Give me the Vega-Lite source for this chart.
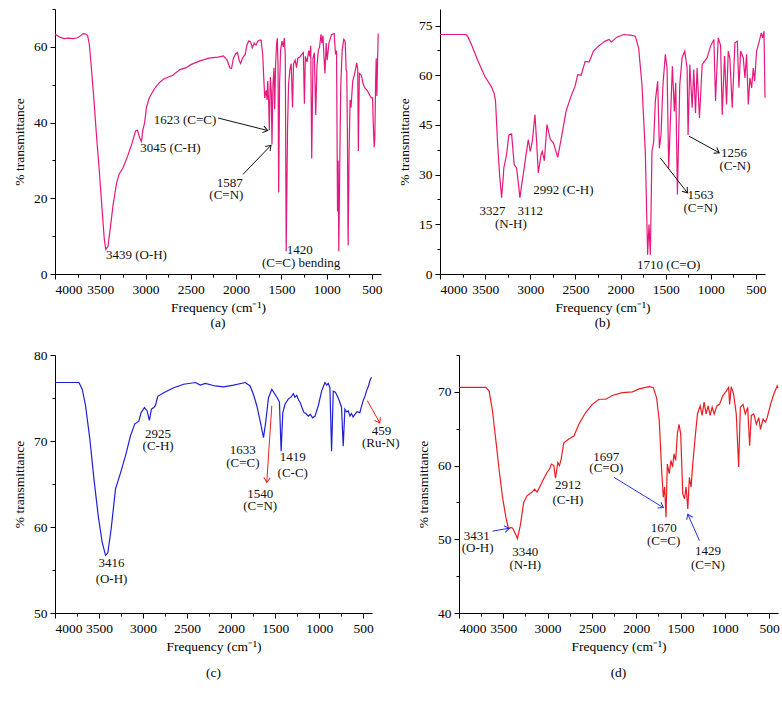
{
  "$schema": "https://vega.github.io/schema/vega-lite/v6.json",
  "padding": {"left": 12, "top": 8, "right": 0, "bottom": 0},
  "spacing": 18,
  "config": {
    "view": {"stroke": null},
    "axis": {"domainColor": "#000", "tickColor": "#000", "labelColor": "#000", "titleColor": "#000", "labelFont": "Liberation Serif", "titleFont": "Liberation Serif", "labelFontSize": 13.5, "titleFontSize": 13.5, "titleFontWeight": "normal", "grid": false, "labelPadding": 3},
    "axisX": {"titlePadding": 5},
    "axisY": {"titlePadding": 7},
    "title": {"font": "Liberation Serif", "fontSize": 13.5, "fontWeight": "normal", "color": "#000"}
  },
  "datasets": {
    "a": [
      {"w":4000,"t":63.3},{"w":3950,"t":62.6},{"w":3900,"t":62.2},{"w":3850,"t":62.3},{"w":3800,"t":62.2},{"w":3750,"t":62.4},{"w":3720,"t":62.9},{"w":3690,"t":63.5},{"w":3660,"t":63.4},{"w":3640,"t":63.0},{"w":3620,"t":60.5},{"w":3600,"t":55},{"w":3570,"t":46},{"w":3540,"t":36},{"w":3510,"t":27},{"w":3480,"t":17},{"w":3455,"t":9},{"w":3439,"t":6.5},{"w":3415,"t":7.3},{"w":3390,"t":12},{"w":3360,"t":18},{"w":3320,"t":24},{"w":3290,"t":26.5},{"w":3250,"t":28},{"w":3200,"t":31},{"w":3150,"t":34.5},{"w":3110,"t":37.8},{"w":3090,"t":38},{"w":3065,"t":36},{"w":3045,"t":35},{"w":3030,"t":38},{"w":3010,"t":40},{"w":2990,"t":44},{"w":2960,"t":46.5},{"w":2900,"t":49},{"w":2850,"t":50.5},{"w":2800,"t":51.5},{"w":2700,"t":52.5},{"w":2620,"t":54},{"w":2550,"t":54.5},{"w":2500,"t":55.3},{"w":2400,"t":56.3},{"w":2300,"t":57},{"w":2200,"t":57.3},{"w":2140,"t":57.6},{"w":2100,"t":56.5},{"w":2070,"t":54.5},{"w":2050,"t":54.3},{"w":2030,"t":57},{"w":2005,"t":58.2},{"w":1985,"t":58.5},{"w":1965,"t":56.3},{"w":1950,"t":55.6},{"w":1930,"t":57},{"w":1900,"t":58},{"w":1880,"t":60.5},{"w":1860,"t":61.6},{"w":1840,"t":61.3},{"w":1820,"t":59.8},{"w":1800,"t":61},{"w":1780,"t":60.5},{"w":1760,"t":61.5},{"w":1740,"t":61.8},
      {"w":1724,"t":61.8},{"w":1706,"t":58},{"w":1695,"t":52},{"w":1684,"t":46.5},{"w":1669,"t":48.5},{"w":1658,"t":46},{"w":1651,"t":51},{"w":1640,"t":45},{"w":1633,"t":38},{"w":1622,"t":52},{"w":1611,"t":48},{"w":1604,"t":34.2},{"w":1593,"t":50},{"w":1582,"t":54.5},{"w":1574,"t":43.5},{"w":1563,"t":56},{"w":1552,"t":61},{"w":1545,"t":62.3},{"w":1537,"t":55},{"w":1530,"t":21.5},{"w":1520,"t":50},{"w":1509,"t":59},{"w":1494,"t":61.5},{"w":1479,"t":60},{"w":1468,"t":62.3},{"w":1457,"t":58},{"w":1447,"t":6},{"w":1432,"t":38.5},{"w":1421,"t":50},{"w":1406,"t":54},{"w":1392,"t":55.5},{"w":1377,"t":44},{"w":1366,"t":55.5},{"w":1348,"t":56.5},{"w":1333,"t":54.5},{"w":1319,"t":57},{"w":1297,"t":57.3},{"w":1275,"t":58},{"w":1257,"t":58.5},{"w":1246,"t":45},{"w":1235,"t":57.5},{"w":1216,"t":56},{"w":1198,"t":59},{"w":1187,"t":57.5},{"w":1176,"t":60.3},{"w":1165,"t":30.5},{"w":1151,"t":57},{"w":1136,"t":58.5},{"w":1121,"t":42},{"w":1107,"t":55},{"w":1092,"t":59},{"w":1078,"t":60},{"w":1063,"t":63.3},{"w":1052,"t":61},{"w":1041,"t":63},{"w":1030,"t":57.5},{"w":1019,"t":53},{"w":1005,"t":61},{"w":994,"t":56.5},{"w":975,"t":61},{"w":946,"t":63.3},{"w":917,"t":63.5},{"w":902,"t":58},{"w":891,"t":59},{"w":880,"t":16.5},{"w":873,"t":30},{"w":866,"t":6},{"w":855,"t":30},{"w":844,"t":50},{"w":829,"t":59},{"w":811,"t":62},{"w":796,"t":61.5},{"w":785,"t":54},{"w":778,"t":53.5},{"w":771,"t":37},{"w":763,"t":7.5},{"w":752,"t":33},{"w":741,"t":46},{"w":731,"t":44},{"w":712,"t":51},{"w":690,"t":53},{"w":668,"t":55.8},{"w":657,"t":54},{"w":650,"t":32.5},{"w":639,"t":53},{"w":617,"t":52.5},{"w":595,"t":50},{"w":574,"t":49},{"w":552,"t":48.5},{"w":530,"t":47.5},{"w":508,"t":46.5},{"w":493,"t":46.5},{"w":486,"t":40},{"w":475,"t":33.5},{"w":468,"t":36},{"w":460,"t":50},{"w":453,"t":57},{"w":446,"t":47},{"w":438,"t":56},{"w":431,"t":63.5}
    ],
    "b": [
      {"w":4000,"t":72.3},{"w":3900,"t":72.3},{"w":3800,"t":72.3},{"w":3710,"t":72.3},{"w":3690,"t":71.5},{"w":3652,"t":69.3},{"w":3578,"t":64.2},{"w":3504,"t":59.7},{"w":3430,"t":56.5},{"w":3400,"t":54.5},{"w":3385,"t":52.2},{"w":3363,"t":40},{"w":3340,"t":30},{"w":3318,"t":23},{"w":3300,"t":29},{"w":3293,"t":32},{"w":3263,"t":36},{"w":3237,"t":42},{"w":3207,"t":42.3},{"w":3178,"t":33},{"w":3152,"t":32},{"w":3130,"t":27},{"w":3115,"t":23},{"w":3095,"t":27},{"w":3078,"t":30},{"w":3052,"t":35},{"w":3022,"t":40.6},{"w":3000,"t":37},{"w":2978,"t":40},{"w":2948,"t":48.1},{"w":2930,"t":40},{"w":2911,"t":30.5},{"w":2881,"t":36},{"w":2867,"t":37},{"w":2844,"t":34.2},{"w":2815,"t":45.1},{"w":2778,"t":40.6},{"w":2744,"t":39.6},{"w":2696,"t":35.2},{"w":2652,"t":41.6},{"w":2604,"t":49.1},{"w":2548,"t":53.7},{"w":2504,"t":56.7},{"w":2474,"t":60.2},{"w":2437,"t":60},{"w":2392,"t":64.2},{"w":2348,"t":64},{"w":2300,"t":67.3},{"w":2244,"t":68.8},{"w":2170,"t":70.3},{"w":2126,"t":70.8},{"w":2104,"t":70},{"w":2041,"t":71.5},{"w":1966,"t":72.3},{"w":1892,"t":72.1},{"w":1837,"t":71.8},{"w":1800,"t":68.3},{"w":1763,"t":57.2},{"w":1726,"t":37},{"w":1700,"t":5.8},{"w":1685,"t":14.9},{"w":1670,"t":5.8},{"w":1652,"t":37},{"w":1633,"t":40},{"w":1615,"t":52.2},{"w":1589,"t":58.2},{"w":1570,"t":38},{"w":1552,"t":42},{"w":1530,"t":57.2},{"w":1504,"t":66.3},{"w":1485,"t":62.2},{"w":1467,"t":32},{"w":1448,"t":46.1},{"w":1426,"t":62.7},{"w":1404,"t":49.1},{"w":1389,"t":57.7},{"w":1370,"t":24},{"w":1344,"t":57.2},{"w":1318,"t":65.3},{"w":1289,"t":67.3},{"w":1263,"t":62.2},{"w":1252,"t":42},{"w":1233,"t":63.2},{"w":1207,"t":50.2},{"w":1189,"t":61.7},{"w":1170,"t":48.6},{"w":1152,"t":62.2},{"w":1126,"t":47.1},{"w":1096,"t":63.2},{"w":1041,"t":65.3},{"w":1003,"t":68.8},{"w":966,"t":70.8},{"w":948,"t":52.2},{"w":918,"t":71.3},{"w":892,"t":69},{"w":874,"t":48.1},{"w":848,"t":65.8},{"w":826,"t":51.2},{"w":807,"t":67.3},{"w":789,"t":65},{"w":763,"t":50.2},{"w":733,"t":69.8},{"w":707,"t":70.3},{"w":689,"t":56.2},{"w":670,"t":67.3},{"w":641,"t":65.3},{"w":622,"t":59.2},{"w":604,"t":66.3},{"w":585,"t":51.2},{"w":567,"t":59.2},{"w":548,"t":56.2},{"w":530,"t":62.2},{"w":515,"t":58.2},{"w":493,"t":67.3},{"w":463,"t":70.3},{"w":441,"t":72.8},{"w":426,"t":71.3},{"w":411,"t":73.3},{"w":400,"t":53.2}
    ],
    "c": [
      {"w":4000,"t":76.8},{"w":3850,"t":76.8},{"w":3728,"t":76.8},{"w":3690,"t":76},{"w":3653,"t":74.1},{"w":3604,"t":70.2},{"w":3558,"t":65.6},{"w":3509,"t":61.3},{"w":3464,"t":58.2},{"w":3426,"t":56.7},{"w":3400,"t":57},{"w":3362,"t":59.8},{"w":3313,"t":64.4},{"w":3256,"t":66.3},{"w":3199,"t":68.3},{"w":3143,"t":70.6},{"w":3094,"t":72},{"w":3048,"t":72.3},{"w":3022,"t":73.3},{"w":2984,"t":73.9},{"w":2954,"t":73.5},{"w":2928,"t":72.4},{"w":2905,"t":73.7},{"w":2879,"t":73.9},{"w":2860,"t":74.1},{"w":2833,"t":75.2},{"w":2765,"t":75.6},{"w":2652,"t":76.2},{"w":2539,"t":76.6},{"w":2406,"t":76.8},{"w":2350,"t":76.5},{"w":2293,"t":76.7},{"w":2180,"t":76.4},{"w":2086,"t":76.3},{"w":1972,"t":76.5},{"w":1840,"t":76.8},{"w":1784,"t":76.4},{"w":1746,"t":75.4},{"w":1708,"t":74.1},{"w":1670,"t":72.3},{"w":1632,"t":70.4},{"w":1606,"t":72.3},{"w":1576,"t":75},{"w":1538,"t":76},{"w":1519,"t":75.7},{"w":1500,"t":75.4},{"w":1474,"t":75},{"w":1451,"t":74.5},{"w":1432,"t":68.8},{"w":1413,"t":73.3},{"w":1387,"t":74.3},{"w":1349,"t":74.9},{"w":1320,"t":75.1},{"w":1293,"t":75.5},{"w":1275,"t":75.1},{"w":1255,"t":75.3},{"w":1235,"t":74.8},{"w":1217,"t":74.5},{"w":1195,"t":73.9},{"w":1172,"t":73.3},{"w":1150,"t":73.2},{"w":1123,"t":72.9},{"w":1100,"t":73.1},{"w":1074,"t":72.7},{"w":1047,"t":72.9},{"w":1010,"t":74.1},{"w":972,"t":75.8},{"w":934,"t":76.8},{"w":915,"t":76.5},{"w":897,"t":76.7},{"w":878,"t":76.2},{"w":859,"t":68.8},{"w":840,"t":75.8},{"w":820,"t":75.7},{"w":802,"t":75.4},{"w":772,"t":74.7},{"w":746,"t":73.9},{"w":727,"t":69.4},{"w":708,"t":73.7},{"w":690,"t":73.4},{"w":670,"t":73.5},{"w":650,"t":72.9},{"w":633,"t":73.2},{"w":615,"t":72.8},{"w":595,"t":73.1},{"w":570,"t":73.4},{"w":538,"t":73.3},{"w":520,"t":74},{"w":500,"t":74.7},{"w":480,"t":75.2},{"w":463,"t":75.8},{"w":440,"t":76.4},{"w":424,"t":77},{"w":406,"t":77.4}
    ],
    "d": [
      {"w":4000,"t":70.6},{"w":3800,"t":70.6},{"w":3698,"t":70.6},{"w":3660,"t":70.1},{"w":3622,"t":67.4},{"w":3584,"t":63.4},{"w":3546,"t":59.3},{"w":3509,"t":55.7},{"w":3471,"t":53},{"w":3441,"t":51.4},{"w":3415,"t":51.6},{"w":3395,"t":51.5},{"w":3365,"t":50.8},{"w":3340,"t":50.1},{"w":3308,"t":51.9},{"w":3270,"t":55},{"w":3233,"t":55.9},{"w":3176,"t":56.4},{"w":3146,"t":56.8},{"w":3119,"t":56.4},{"w":3081,"t":57.3},{"w":3044,"t":58.2},{"w":3006,"t":59.1},{"w":2979,"t":59.5},{"w":2957,"t":60.2},{"w":2930,"t":60},{"w":2911,"t":58.3},{"w":2885,"t":60.4},{"w":2866,"t":60},{"w":2847,"t":60.9},{"w":2817,"t":63.1},{"w":2760,"t":63.6},{"w":2703,"t":64},{"w":2647,"t":65.6},{"w":2571,"t":67.2},{"w":2496,"t":68.3},{"w":2420,"t":69},{"w":2344,"t":69},{"w":2269,"t":69.5},{"w":2155,"t":69.9},{"w":2042,"t":70},{"w":1966,"t":70.4},{"w":1853,"t":70.7},{"w":1808,"t":70.6},{"w":1770,"t":69.2},{"w":1740,"t":66.1},{"w":1713,"t":59.3},{"w":1694,"t":55.7},{"w":1679,"t":57.1},{"w":1664,"t":53},{"w":1649,"t":60.2},{"w":1627,"t":58.9},{"w":1608,"t":60.7},{"w":1589,"t":59.8},{"w":1574,"t":61.6},{"w":1555,"t":60.7},{"w":1536,"t":64.3},{"w":1517,"t":65.6},{"w":1498,"t":64.3},{"w":1475,"t":56.2},{"w":1456,"t":55.5},{"w":1437,"t":57.1},{"w":1418,"t":54.1},{"w":1400,"t":58.4},{"w":1381,"t":57.1},{"w":1362,"t":60.2},{"w":1335,"t":63.8},{"w":1309,"t":67},{"w":1279,"t":68.1},{"w":1256,"t":66.8},{"w":1234,"t":68.6},{"w":1211,"t":67},{"w":1188,"t":68.1},{"w":1166,"t":66.8},{"w":1143,"t":67.9},{"w":1120,"t":67},{"w":1090,"t":68.1},{"w":1060,"t":68.3},{"w":1022,"t":69.5},{"w":984,"t":70.1},{"w":957,"t":70.6},{"w":946,"t":68.3},{"w":928,"t":70.7},{"w":901,"t":69.7},{"w":871,"t":67},{"w":844,"t":59.8},{"w":825,"t":67.9},{"w":795,"t":68.3},{"w":769,"t":67},{"w":742,"t":67.9},{"w":720,"t":62.7},{"w":701,"t":66.8},{"w":674,"t":67},{"w":644,"t":65.6},{"w":617,"t":66.5},{"w":598,"t":64.9},{"w":568,"t":66.3},{"w":541,"t":65.9},{"w":522,"t":66.5},{"w":484,"t":68.3},{"w":447,"t":69.7},{"w":409,"t":70.8},{"w":400,"t":70.5}
    ],
    "ta": [
      {"w":3101,"t":4.9,"label":"3439 (O-H)"},{"w":2725,"t":33.3,"label":"3045 (C-H)"},{"w":2564,"t":40.8,"label":"1623 (C=C)"},{"w":2071,"t":24.1,"label":"1587"},{"w":2108,"t":21,"label":"(C=N)"},{"w":1297,"t":6.4,"label":"1420"},{"w":1282,"t":2.9,"label":"(C=C) bending"}
    ],
    "tb": [
      {"w":3418,"t":18.9,"label":"3327"},{"w":3000,"t":18.9,"label":"3112"},{"w":3215,"t":15.1,"label":"(N-H)"},{"w":2633,"t":25.5,"label":"2992 (C-H)"},{"w":1466,"t":2.8,"label":"1710 (C=O)"},{"w":1115,"t":24,"label":"1563"},{"w":1115,"t":19.9,"label":"(C=N)"},{"w":744,"t":36.6,"label":"1256"},{"w":733,"t":32.7,"label":"(C-N)"}
    ],
    "tc": [
      {"w":3358,"t":55.8,"label":"3416"},{"w":3358,"t":54,"label":"(O-H)"},{"w":2829,"t":70.8,"label":"2925"},{"w":2829,"t":69.4,"label":"(C-H)"},{"w":1867,"t":68.9,"label":"1633"},{"w":1867,"t":67.4,"label":"(C=C)"},{"w":1300,"t":68.1,"label":"1419"},{"w":1300,"t":66.3,"label":"(C-C)"},{"w":1670,"t":63.8,"label":"1540"},{"w":1670,"t":62.4,"label":"(C=N)"},{"w":292,"t":71.2,"label":"459"},{"w":300,"t":69.8,"label":"(Ru-N)"}
    ],
    "td": [
      {"w":3800,"t":50.5,"label":"3431"},{"w":3790,"t":48.8,"label":"(O-H)"},{"w":3252,"t":48.3,"label":"3340"},{"w":3252,"t":46.5,"label":"(N-H)"},{"w":2771,"t":57.3,"label":"2912"},{"w":2771,"t":55.3,"label":"(C-H)"},{"w":2337,"t":61.2,"label":"1697"},{"w":2337,"t":59.7,"label":"(C=O)"},{"w":1690,"t":51.5,"label":"1670"},{"w":1690,"t":49.7,"label":"(C=C)"},{"w":1191,"t":48.4,"label":"1429"},{"w":1191,"t":46.5,"label":"(C=N)"}
    ],
    "aa": [
      {"w":1651,"t":37.9,"w2":2199,"t2":41.2,"angle":14},{"w":1615,"t":34,"w2":1925,"t2":26.3,"angle":-46}
    ],
    "ab": [
      {"w":1259,"t":24.5,"w2":1559,"t2":35,"angle":52},{"w":907,"t":36.6,"w2":1241,"t2":41.6,"angle":29}
    ],
    "ac": [
      {"w":1595,"t":65.2,"w2":1538,"t2":74.1,"angle":94},{"w":311,"t":72.1,"w2":454,"t2":74.7,"angle":60}
    ],
    "ad": [
      {"w":3433,"t":51.5,"w2":3622,"t2":51.1,"angle":-11},{"w":1694,"t":54.3,"w2":2250,"t2":58.4,"angle":31.5},{"w":1418,"t":53.4,"w2":1286,"t2":49.8,"angle":-114}
    ]
  },
  "vconcat": [
    {
      "bounds": "flush",
      "spacing": 59,
      "hconcat": [
        {
          "width": 326, "height": 265,
          "title": {"text": "(a)", "orient": "bottom", "offset": 2},
          "encoding": {
            "x": {"field": "w", "type": "quantitative", "title": "Frequency (cm⁻¹)", "scale": {"domain": [400, 4000], "reverse": true, "nice": false, "zero": false},
                  "axis": {"values": [4000,3750,3500,3250,3000,2750,2500,2250,2000,1750,1500,1250,1000,750,500], "format": "d", "labelExpr": "datum.value % 500 === 0 ? datum.label : ''", "tickSize": {"condition": {"test": "datum.value % 500 === 0", "value": 5}, "value": 3}}},
            "y": {"field": "t", "type": "quantitative", "title": "% transmittance", "scale": {"domain": [0, 70], "nice": false, "zero": false},
                  "axis": {"values": [0,10,20,30,40,50,60,70], "labelExpr": "datum.value % 20 === 0 ? datum.label : ''", "tickSize": {"condition": {"test": "datum.value % 20 === 0", "value": 5}, "value": 3}}}
          },
          "layer": [
            {"data": {"name": "a"}, "mark": {"type": "line", "color": "#e6177d", "strokeWidth": 1.2}},
            {"data": {"name": "ta"}, "mark": {"type": "text", "font": "Liberation Serif", "fontSize": 13, "color": "#111"}, "encoding": {"text": {"field": "label"}}},
            {"data": {"name": "aa"}, "mark": {"type": "rule", "color": "#111", "strokeWidth": 1}, "encoding": {"x2": {"field": "w2"}, "y2": {"field": "t2"}}},
            {"data": {"name": "aa"}, "mark": {"type": "point", "shape": "M-1,-0.7L0,0L-1,0.7", "filled": false, "size": 90, "color": "#111", "strokeWidth": 1, "opacity": 1}, "encoding": {"angle": {"field": "angle", "type": "quantitative", "scale": null}}}
          ]
        },
        {
          "width": 325, "height": 265,
          "title": {"text": "(b)", "orient": "bottom", "offset": 2},
          "encoding": {
            "x": {"field": "w", "type": "quantitative", "title": "Frequency (cm⁻¹)", "scale": {"domain": [400, 4000], "reverse": true, "nice": false, "zero": false},
                  "axis": {"values": [4000,3750,3500,3250,3000,2750,2500,2250,2000,1750,1500,1250,1000,750,500], "format": "d", "labelExpr": "datum.value % 500 === 0 ? datum.label : ''", "tickSize": {"condition": {"test": "datum.value % 500 === 0", "value": 5}, "value": 3}}},
            "y": {"field": "t", "type": "quantitative", "title": "% transmittance", "scale": {"domain": [0, 80], "nice": false, "zero": false},
                  "axis": {"values": [0,7.5,15,22.5,30,37.5,45,52.5,60,67.5,75], "labelExpr": "datum.value % 15 === 0 ? datum.label : ''", "tickSize": {"condition": {"test": "datum.value % 15 === 0", "value": 5}, "value": 3}}}
          },
          "layer": [
            {"data": {"name": "b"}, "mark": {"type": "line", "color": "#e6177d", "strokeWidth": 1.2}},
            {"data": {"name": "tb"}, "mark": {"type": "text", "font": "Liberation Serif", "fontSize": 13, "color": "#111"}, "encoding": {"text": {"field": "label"}}},
            {"data": {"name": "ab"}, "mark": {"type": "rule", "color": "#111", "strokeWidth": 1}, "encoding": {"x2": {"field": "w2"}, "y2": {"field": "t2"}}},
            {"data": {"name": "ab"}, "mark": {"type": "point", "shape": "M-1,-0.7L0,0L-1,0.7", "filled": false, "size": 90, "color": "#111", "strokeWidth": 1, "opacity": 1}, "encoding": {"angle": {"field": "angle", "type": "quantitative", "scale": null}}}
          ]
        }
      ]
    },
    {
      "bounds": "flush",
      "spacing": 87,
      "hconcat": [
        {
          "width": 317, "height": 258,
          "title": {"text": "(c)", "orient": "bottom", "offset": 13},
          "encoding": {
            "x": {"field": "w", "type": "quantitative", "title": "Frequency (cm⁻¹)", "scale": {"domain": [400, 4000], "reverse": true, "nice": false, "zero": false},
                  "axis": {"values": [4000,3750,3500,3250,3000,2750,2500,2250,2000,1750,1500,1250,1000,750,500], "format": "d", "labelExpr": "datum.value % 500 === 0 ? datum.label : ''", "tickSize": {"condition": {"test": "datum.value % 500 === 0", "value": 5}, "value": 3}}},
            "y": {"field": "t", "type": "quantitative", "title": "% transmittance", "scale": {"domain": [50, 80], "nice": false, "zero": false},
                  "axis": {"values": [50,55,60,65,70,75,80], "labelExpr": "datum.value % 10 === 0 ? datum.label : ''", "tickSize": {"condition": {"test": "datum.value % 10 === 0", "value": 5}, "value": 3}}}
          },
          "layer": [
            {"data": {"name": "c"}, "mark": {"type": "line", "color": "#1f1fd6", "strokeWidth": 1.2}},
            {"data": {"name": "tc"}, "mark": {"type": "text", "font": "Liberation Serif", "fontSize": 13, "color": "#111"}, "encoding": {"text": {"field": "label"}}},
            {"data": {"name": "ac"}, "mark": {"type": "rule", "color": "#e8221e", "strokeWidth": 1}, "encoding": {"x2": {"field": "w2"}, "y2": {"field": "t2"}}},
            {"data": {"name": "ac"}, "mark": {"type": "point", "shape": "M-1,-0.7L0,0L-1,0.7", "filled": false, "size": 90, "color": "#e8221e", "strokeWidth": 1, "opacity": 1}, "encoding": {"angle": {"field": "angle", "type": "quantitative", "scale": null}}}
          ]
        },
        {
          "width": 319, "height": 258,
          "title": {"text": "(d)", "orient": "bottom", "offset": 13},
          "encoding": {
            "x": {"field": "w", "type": "quantitative", "title": "Frequency (cm⁻¹)", "scale": {"domain": [400, 4000], "reverse": true, "nice": false, "zero": false},
                  "axis": {"values": [4000,3750,3500,3250,3000,2750,2500,2250,2000,1750,1500,1250,1000,750,500], "format": "d", "labelExpr": "datum.value % 500 === 0 ? datum.label : ''", "tickSize": {"condition": {"test": "datum.value % 500 === 0", "value": 5}, "value": 3}}},
            "y": {"field": "t", "type": "quantitative", "title": "% transmittance", "scale": {"domain": [40, 75], "nice": false, "zero": false},
                  "axis": {"values": [40,45,50,55,60,65,70,75], "labelExpr": "datum.value % 10 === 0 ? datum.label : ''", "tickSize": {"condition": {"test": "datum.value % 10 === 0", "value": 5}, "value": 3}}}
          },
          "layer": [
            {"data": {"name": "d"}, "mark": {"type": "line", "color": "#ec1c24", "strokeWidth": 1.2}},
            {"data": {"name": "td"}, "mark": {"type": "text", "font": "Liberation Serif", "fontSize": 13, "color": "#111"}, "encoding": {"text": {"field": "label"}}},
            {"data": {"name": "ad"}, "mark": {"type": "rule", "color": "#2633e6", "strokeWidth": 1}, "encoding": {"x2": {"field": "w2"}, "y2": {"field": "t2"}}},
            {"data": {"name": "ad"}, "mark": {"type": "point", "shape": "M-1,-0.7L0,0L-1,0.7", "filled": false, "size": 90, "color": "#2633e6", "strokeWidth": 1, "opacity": 1}, "encoding": {"angle": {"field": "angle", "type": "quantitative", "scale": null}}}
          ]
        }
      ]
    }
  ]
}
